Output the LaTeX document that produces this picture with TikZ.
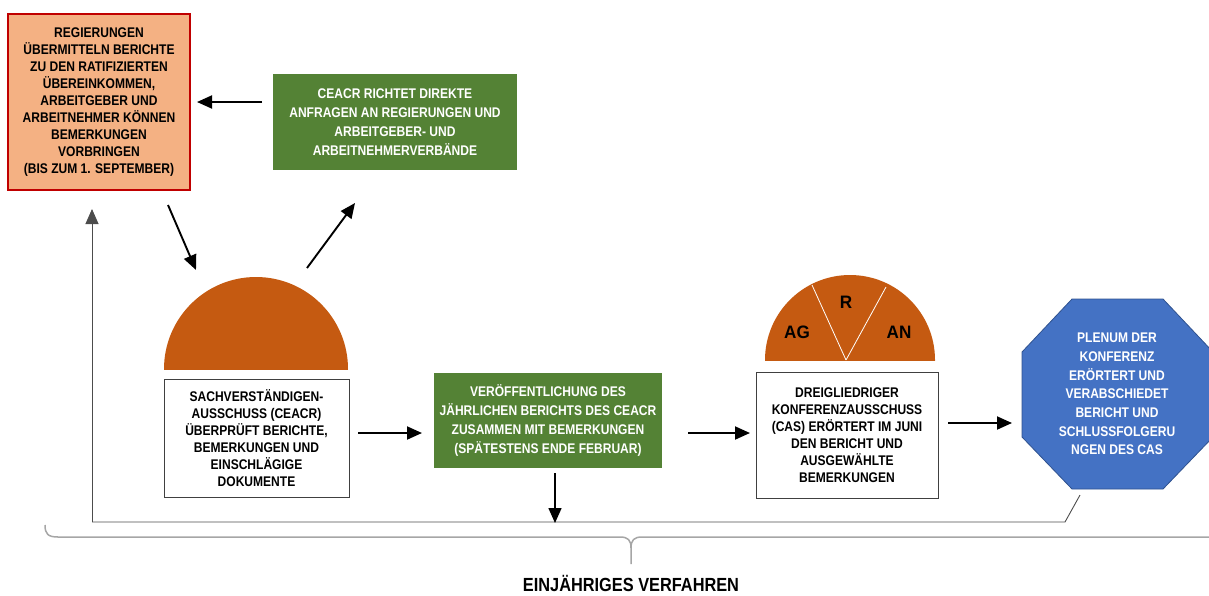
\documentclass[tikz,border=0pt]{standalone}
\usepackage{fontspec}
\setmainfont{Liberation Sans}[FakeStretch=0.86]
\newfontfamily\labelfont{Liberation Sans}[FakeStretch=0.95]
\usetikzlibrary{arrows.meta}
\definecolor{boxorange}{HTML}{F4B183}
\definecolor{boxred}{HTML}{C00000}
\definecolor{ilogreen}{HTML}{548235}
\definecolor{domeorange}{HTML}{C55A11}
\definecolor{plenumblue}{HTML}{4472C4}
\definecolor{plenumedge}{HTML}{2F528F}
\definecolor{bracegray}{HTML}{A6A6A6}
\begin{document}
\begin{tikzpicture}[x=1pt,y=-1pt,
  txt/.style={font=\fontsize{14}{17}\selectfont\bfseries, align=center, inner sep=0pt},
  greenbox/.style={txt, fill=ilogreen, text=white, font=\fontsize{14}{19}\selectfont\bfseries},
  whitebox/.style={txt, draw=black!75, line width=0.8pt, fill=white},
  arr/.style={line width=1.9pt, -{Triangle[length=15pt,width=13pt]}},
  thinarr/.style={line width=0.9pt, draw=black!70, -{Triangle[length=15pt,width=13pt]}},
  loopline/.style={line width=0.9pt, draw=black!70},
  domelabel/.style={font=\labelfont\fontsize{18}{18}\selectfont\bfseries, inner sep=0pt}
]
\useasboundingbox (0,0) rectangle (1209,595);

% boxes
\node[txt, draw=boxred, line width=2pt, fill=boxorange, minimum width=182pt, minimum height=176pt] (gov) at (99,102)
 {REGIERUNGEN\\ÜBERMITTELN BERICHTE\\ZU DEN RATIFIZIERTEN\\ÜBEREINKOMMEN,\\ARBEITGEBER UND\\ARBEITNEHMER KÖNNEN\\BEMERKUNGEN\\VORBRINGEN\\(BIS ZUM 1. SEPTEMBER)};

\node[greenbox, minimum width=244pt, minimum height=96pt] (req) at (395,122)
 {CEACR RICHTET DIREKTE\\ANFRAGEN AN REGIERUNGEN UND\\ARBEITGEBER- UND\\ARBEITNEHMERVERBÄNDE};

% CEACR dome
\begin{scope}
\clip (150,369) rectangle (360,260);
\fill[domeorange] (256,369) circle[radius=92pt];
\end{scope}
\coordinate (dome1) at (256,320);

\node[whitebox, minimum width=185pt, minimum height=118pt] (ceacr) at (256.5,438)
 {SACHVERSTÄNDIGEN-\\AUSSCHUSS (CEACR)\\ÜBERPRÜFT BERICHTE,\\BEMERKUNGEN UND\\EINSCHLÄGIGE\\DOKUMENTE};

\node[greenbox, minimum width=228pt, minimum height=95pt] (pub) at (548,420.5)
 {VERÖFFENTLICHUNG DES\\JÄHRLICHEN BERICHTS DES CEACR\\ZUSAMMEN MIT BEMERKUNGEN\\(SPÄTESTENS ENDE FEBRUAR)};

% CAS dome
\begin{scope}
\clip (750,360) rectangle (950,260);
\fill[domeorange] (850,360) circle[radius=85pt];
\end{scope}
\draw[white, line width=0.8pt] (846,360) -- (812,285);
\draw[white, line width=0.8pt] (846,360) -- (886,287);
\node[domelabel] (ag) at (797,332) {AG};
\node[domelabel] (r) at (846,302) {R};
\node[domelabel] (an) at (899,332) {AN};

\node[whitebox, minimum width=182pt, minimum height=126pt] (cas) at (847,435)
 {DREIGLIEDRIGER\\KONFERENZAUSSCHUSS\\(CAS) ERÖRTERT IM JUNI\\DEN BERICHT UND\\AUSGEWÄHLTE\\BEMERKUNGEN};

% plenum octagon
\filldraw[fill=plenumblue, draw=plenumedge, line width=0.8pt]
  (1072,299) -- (1163,299) -- (1213,352) -- (1213,437) -- (1163,489) -- (1072,489) -- (1022,437) -- (1022,352) -- cycle;
\node[txt, text=white, font=\fontsize{14}{18.7}\selectfont\bfseries] (plenum) at (1117,394)
 {PLENUM DER\\KONFERENZ\\ERÖRTERT UND\\VERABSCHIEDET\\BERICHT UND\\SCHLUSSFOLGERU\\NGEN DES CAS};

% arrow coordinates
\coordinate (reqout) at (262,102);
\coordinate (govin) at (197,102);
\coordinate (govout) at (168,205);
\coordinate (domein) at (196,270);
\coordinate (domeout) at (307,268);
\coordinate (reqin) at (355,203);
\coordinate (ceacrout) at (358,433);
\coordinate (pubin) at (422,433);
\coordinate (pubout) at (688,433);
\coordinate (casin) at (750,433);
\coordinate (casout) at (948,423);
\coordinate (plenumin) at (1012,423);
\coordinate (pubdown) at (555,473);
\coordinate (loopjoin) at (555,523);
\coordinate (plenumfoot) at (1080,495);
\coordinate (loopcorner) at (1065,522);
\coordinate (loopleft) at (92,522);
\coordinate (govbelow) at (92,209);

\draw[arr] (reqout) -- (govin);
\draw[arr] (govout) -- (domein);
\draw[arr] (domeout) -- (reqin);
\draw[arr] (ceacrout) -- (pubin);
\draw[arr] (pubout) -- (casin);
\draw[arr] (casout) -- (plenumin);

% return loop
\draw[loopline] (plenumfoot) -- (loopcorner) -- (loopleft);
\draw[thinarr] (loopleft) -- (govbelow);
\draw[arr, line width=1.5pt] (pubdown) -- (loopjoin);

% brace
\draw[bracegray, line width=1.5pt]
  (45,525) .. controls (45,534) and (48,537) .. (58,537) -- (620,537)
  .. controls (628,537) and (631,540) .. (631,548) -- (631,564);
\draw[bracegray, line width=1.5pt]
  (631,548) .. controls (631,540) and (634,537) .. (642,537) -- (1212,537);
\node[font=\fontsize{19}{19}\selectfont\bfseries, inner sep=0pt] (title) at (631,583) {EINJÄHRIGES VERFAHREN};
\end{tikzpicture}
\end{document}
